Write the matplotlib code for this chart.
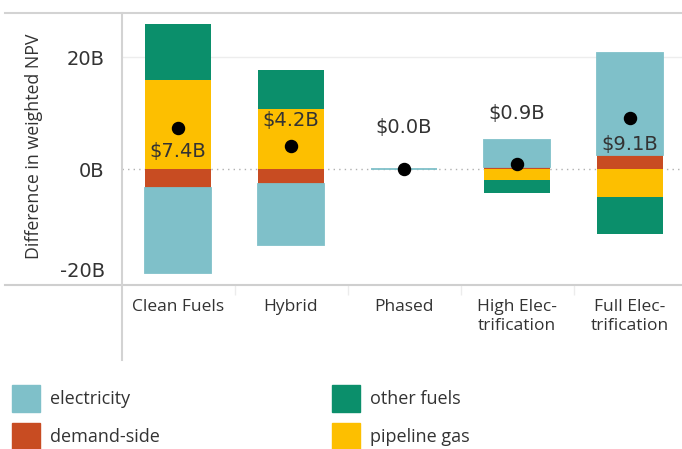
import numpy as np
import matplotlib.pyplot as plt
from matplotlib.lines import Line2D
from matplotlib.patches import Rectangle
import matplotlib.transforms as mtransforms

# Datos (miles de millones)
scenarios = ['Clean Fuels', 'Hybrid', 'Phased', 'High Elec-\ntrification', 'Full Elec-\ntrification']
components = ['demand-side', 'pipeline gas', 'other fuels', 'electricity']
demand_side = [-3.4, -2.6, 0.0, 0.4, 2.5]
pipeline_gas = [15.9, 10.8, 0.0, -1.9, -5.0]
other_fuels = [10.0, 7.0, 0.0, -2.4, -6.6]
electricity = [-15.1, -11.0, 0.0, 4.8, 18.2]
net_npv = [7.4, 4.2, 0.0, 0.9, 9.1]
net_labels = ['$7.4B', '$4.2B', '$0.0B', '$0.9B', '$9.1B']

values = {'demand-side': demand_side, 'pipeline gas': pipeline_gas,
          'other fuels': other_fuels, 'electricity': electricity}
colors = {'electricity': '#7fc0c9', 'demand-side': '#c84c22',
          'other fuels': '#0b8f6b', 'pipeline gas': '#fdbf00'}

W, H = 682, 449
fig = plt.figure(figsize=(W / 100, H / 100), dpi=100)
ax = fig.add_axes([121.5 / W, (H - 285) / H, 1 - 121.5 / W, (285 - 13) / H])

x = np.arange(len(scenarios))
pos = np.zeros(len(scenarios))
neg = np.zeros(len(scenarios))
for name in components:
    v = np.array(values[name])
    bottom = np.where(v >= 0, pos, neg)
    edge = colors[name] if name == 'electricity' else 'none'
    ax.bar(x, v, bottom=bottom, width=0.58, color=colors[name],
           edgecolor=edge, linewidth=1.3 if name == 'electricity' else 0, zorder=3)
    pos += np.clip(v, 0, None)
    neg += np.clip(v, None, 0)

ax.scatter(x, net_npv, s=75, color='black', zorder=5)

# etiquetas del total (desplazamiento en px respecto al punto)
label_offsets = [-24, 25, 42, 51, -26]
for xi, yi, lab, off in zip(x, net_npv, net_labels, label_offsets):
    ax.annotate(lab, (xi, yi), xytext=(0, off * 0.72), textcoords='offset points',
                ha='center', va='center', fontsize=14, color='#333333', zorder=6)

ax.set_xlim(-0.5, -0.5 + (W - 121.5) / 113)
ax.set_ylim(-20.7, 27.9)
ax.set_yticks([-20, 0, 20])
ax.set_yticklabels(['-20B', '0B', '20B'], fontsize=14, color='#333333')
ax.tick_params(axis='y', length=0, pad=12)
ax.set_xticks(x)
ax.set_xticklabels(scenarios, fontsize=12.5, color='#333333', family='Open Sans',
                   linespacing=1.3)
ax.tick_params(axis='x', length=0, pad=10)
ax.set_xticks(x[:-1] + 0.5, minor=True)
ax.tick_params(axis='x', which='minor', length=7, color='#ececec', width=1)

# la etiqueta -20B se sube para que quepa
lbl = ax.get_yticklabels()[0]
lbl.set_transform(lbl.get_transform() + mtransforms.ScaledTranslation(0, 12 / 100, fig.dpi_scale_trans))

for s in ax.spines.values():
    s.set_visible(False)
ax.axhline(20, color='#ededed', lw=1, zorder=1)
ax.axhline(0, color='#b0b0b0', lw=1, ls=(0, (1, 3)), zorder=1)

# lineas de marco
fig.add_artist(Line2D([5 / W, 1], [(H - 13) / H] * 2, color='#d3d3d3', lw=1.5))
fig.add_artist(Line2D([5 / W, 1], [(H - 285) / H] * 2, color='#cfcfcf', lw=1.5))
fig.add_artist(Line2D([121.5 / W] * 2, [(H - 13) / H, (H - 360) / H], color='#d3d3d3', lw=1.5))

fig.text(34 / W, 1 - 146 / H, 'Difference in weighted NPV', rotation=90,
         ha='center', va='center', fontsize=12.8, color='#333333', family='Open Sans')

# leyenda
legend_order = ['electricity', 'other fuels', 'demand-side', 'pipeline gas']
for i, name in enumerate(legend_order):
    col, row = i % 2, i // 2
    x0 = 12 + col * 320
    y0 = 385 + row * 38
    fig.add_artist(Rectangle((x0 / W, 1 - (y0 + 27) / H), 28 / W, 27 / H,
                             color=colors[name], transform=fig.transFigure))
    fig.text((x0 + 38) / W, 1 - (y0 + 14) / H, name, ha='left', va='center',
             fontsize=13, color='#333333', family='Open Sans')

fig.savefig('out.png', dpi=100)
